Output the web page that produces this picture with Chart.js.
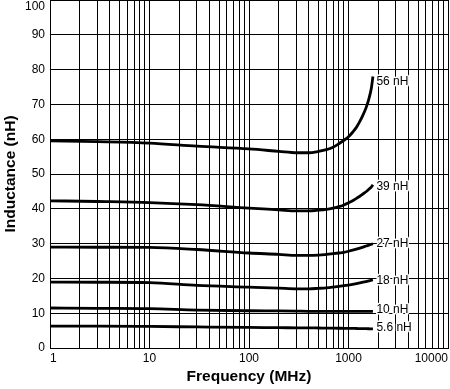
<!DOCTYPE html>
<html><head><meta charset="utf-8">
<script src="https://cdn.jsdelivr.net/npm/chart.js@4/dist/chart.umd.min.js"></script>
<style>html,body{margin:0;padding:0;background:#fff;overflow:hidden}</style>
</head><body>
<canvas id="c" width="450" height="389"></canvas>
<script>
// ---- data ----
const frequencies = [1, 3, 10, 30, 100, 200, 300, 400, 500, 600, 700, 800, 900, 1000, 1100, 1200, 1300, 1400, 1500, 1600, 1700, 1760];
const l56 = [59.5, 59.3, 58.9, 58.0, 57.2, 56.5, 56.1, 56.1, 56.5, 57.0, 57.7, 58.7, 59.7, 60.7, 62.0, 63.4, 65.1, 67.0, 69.0, 71.5, 74.8, 78.0];
const l39 = [42.3, 42.1, 41.8, 41.2, 40.2, 39.7, 39.4, 39.4, 39.6, 39.85, 40.2, 40.6, 41.1, 41.7, 42.3, 43.0, 43.6, 44.3, 44.9, 45.6, 46.3, 46.9];
const l27 = [29.0, 28.95, 28.9, 28.3, 27.3, 26.9, 26.6, 26.6, 26.7, 26.9, 27.1, 27.3, 27.5, 27.8, 28.1, 28.4, 28.7, 29.0, 29.3, 29.55, 29.8, 29.95];
const l18 = [18.95, 18.9, 18.8, 18.0, 17.5, 17.2, 17.0, 17.0, 17.15, 17.3, 17.5, 17.7, 17.9, 18.1, 18.3, 18.5, 18.7, 18.9, 19.1, 19.3, 19.5, 19.6];
const l10 = [11.5, 11.4, 11.3, 10.9, 10.7, 10.65, 10.6, 10.55, 10.55, 10.5, 10.5, 10.5, 10.5, 10.5, 10.5, 10.5, 10.5, 10.5, 10.5, 10.5, 10.5, 10.5];
const l5p6 = [6.3, 6.3, 6.2, 6.05, 5.9, 5.85, 5.8, 5.78, 5.75, 5.72, 5.7, 5.68, 5.66, 5.65, 5.63, 5.6, 5.58, 5.56, 5.55, 5.53, 5.51, 5.5];
const seriesLabels = ['56 nH', '39 nH', '27 nH', '18 nH', '10 nH', '5.6 nH'];
const xMajorTicks = [1, 10, 100, 1000, 10000];
const yTicks = [0, 10, 20, 30, 40, 50, 60, 70, 80, 90, 100];
const xTitle = 'Frequency (MHz)';
const yTitle = 'Inductance (nH)';

const FONT = '"Liberation Sans", Arial, Helvetica, sans-serif';
const seriesValues = [l56, l39, l27, l18, l10, l5p6];
const labelDy = [5, 1.8, 0.3, 1, -1.5, -1];

const datasets = seriesValues.map((vals, i) => ({
  label: seriesLabels[i],
  data: frequencies.map((f, j) => ({x: f, y: vals[j]})),
  borderColor: '#000',
  borderWidth: 2.8,
  pointRadius: 0,
  fill: false,
  cubicInterpolationMode: 'monotone',
  labelDy: labelDy[i]
}));

// all minor grid positions from the major decades
const xGridValues = [];
xMajorTicks.forEach((d, k) => {
  if (k === xMajorTicks.length - 1) { xGridValues.push(d); return; }
  for (let m = 1; m <= 9; m++) xGridValues.push(m * d);
});

const endLabels = {
  id: 'endLabels',
  afterDatasetsDraw(chart) {
    const ctx = chart.ctx;
    ctx.save();
    ctx.font = '12px ' + FONT;
    ctx.textAlign = 'left';
    ctx.textBaseline = 'middle';
    chart.data.datasets.forEach((ds, i) => {
      const meta = chart.getDatasetMeta(i);
      const pt = meta.data[meta.data.length - 1];
      const x = pt.x + 3.5, y = pt.y + (ds.labelDy || 0);
      ctx.lineWidth = 3; ctx.strokeStyle = '#fff'; ctx.lineJoin = 'round';
      ctx.strokeText(ds.label, x, y);
      ctx.fillStyle = '#000';
      ctx.fillText(ds.label, x, y);
    });
    // top y tick label, kept inside the canvas
    const ys = chart.scales.y;
    const top = yTicks[yTicks.length - 1];
    ctx.textAlign = 'right';
    ctx.fillText(String(top), ys.right - 5, ys.getPixelForValue(top) + 6.7);
    ctx.restore();
  }
};

new Chart(document.getElementById('c'), {
  type: 'line',
  data: { datasets },
  options: {
    responsive: false,
    animation: false,
    devicePixelRatio: 1,
    layout: { padding: { left: 0, right: 2, top: 0, bottom: 0 } },
    plugins: { legend: { display: false }, tooltip: { enabled: false } },
    scales: {
      x: {
        type: 'logarithmic',
        min: xMajorTicks[0],
        max: xMajorTicks[xMajorTicks.length - 1],
        afterBuildTicks: (s) => { s.ticks = xGridValues.map(v => ({value: v})); },
        afterFit: (s) => { s.height = 41; s.paddingLeft = 0; s.paddingRight = 0; },
        border: { display: true, color: '#000', width: 1 },
        grid: { color: '#000', lineWidth: 1, drawTicks: false },
        ticks: {
          autoSkip: false,
          maxRotation: 0,
          align: 'inner',
          padding: 3,
          color: '#000',
          font: { family: FONT, size: 12 },
          callback: (v) => xMajorTicks.includes(v) ? String(v) : ''
        },
        title: {
          display: true, text: xTitle, color: '#000',
          font: { family: FONT, size: 15.5, weight: 'bold' },
          padding: { top: 0, bottom: 3 }
        }
      },
      y: {
        type: 'linear',
        min: yTicks[0],
        max: yTicks[yTicks.length - 1],
        afterBuildTicks: (s) => { s.ticks = yTicks.map(v => ({value: v})); },
        afterFit: (s) => { s.width = 50; s.paddingTop = 0; s.paddingBottom = 0; },
        border: { display: true, color: '#000', width: 1 },
        grid: { color: '#000', lineWidth: 1, drawTicks: false },
        ticks: {
          padding: 5,
          color: '#000',
          font: { family: FONT, size: 12 },
          callback: (v) => v === yTicks[yTicks.length - 1] ? '' : String(v)
        },
        title: {
          display: true, text: yTitle, color: '#000',
          font: { family: FONT, size: 15.5, weight: 'bold' },
          padding: { top: 1, bottom: 0 }
        }
      }
    }
  },
  plugins: [endLabels]
});
</script>
</body></html>
